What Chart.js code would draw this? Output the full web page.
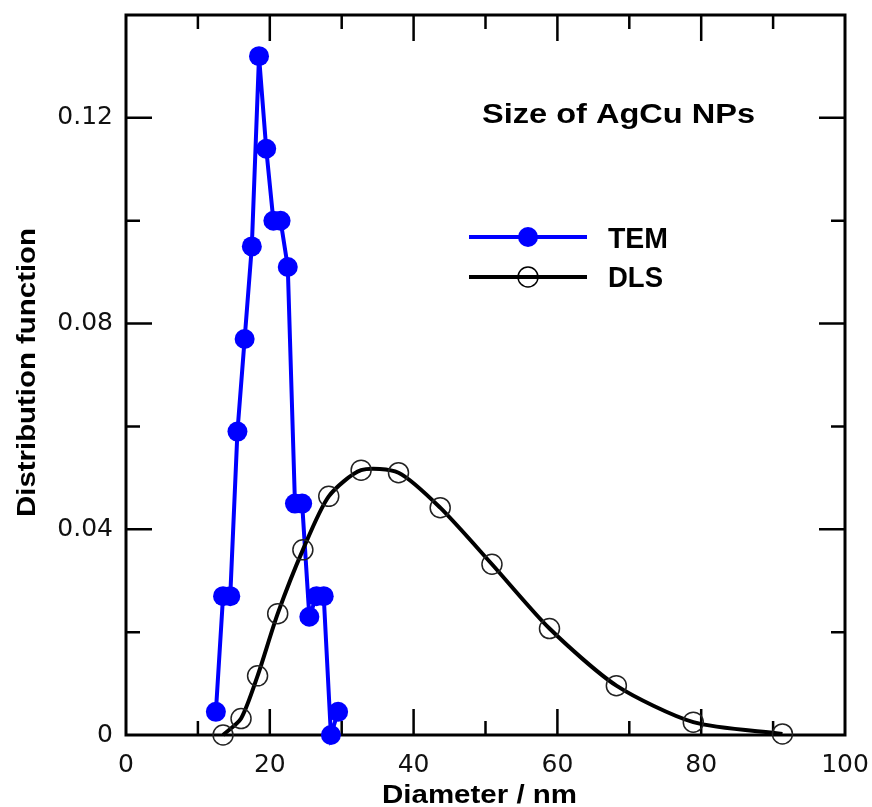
<!DOCTYPE html>
<html>
<head>
<meta charset="utf-8">
<script src="https://cdn.jsdelivr.net/npm/chart.js@4"></script>
<style>
  html, body { margin: 0; padding: 0; background: #fff; }
  canvas { display: block; }
</style>
</head>
<body>
<canvas id="myCanvas" width="872" height="807"></canvas>
<script>
// TEM histogram (diameter in nm, distribution)
const temDiameter = [12.5, 13.5, 14.5, 15.5, 16.5, 17.5, 18.5, 19.5, 20.5, 21.5, 22.5, 23.5, 24.5, 25.5, 26.5, 27.5, 28.5, 29.5];
const temValues = [0.0045, 0.027, 0.027, 0.059, 0.077, 0.095, 0.132, 0.114, 0.100, 0.100, 0.091, 0.045, 0.045, 0.023, 0.027, 0.027, 0, 0.0045];

// DLS distribution
const dlsDiameter = [13.5, 16.0, 18.3, 21.1, 24.6, 28.2, 32.7, 37.9, 43.7, 50.9, 58.9, 68.2, 78.9, 91.3];
const dlsValues = [0, 0.0032, 0.0115, 0.0236, 0.036, 0.0464, 0.0515, 0.051, 0.0442, 0.0332, 0.0207, 0.0096, 0.0025, 0.0002];

const xMajor = [20, 40, 60, 80];
const xMinor = [10, 30, 50, 70, 90];
const yMajor = [0.04, 0.08, 0.12];
const yMinor = [0.02, 0.06, 0.10];

const toPoints = (xs, ys) => xs.map((v, i) => ({ x: v, y: ys[i] }));

// draws text squeezed/stretched to a given width
const stretchText = (ctx, str, x, y, font, width) => {
   ctx.font = font;
   const w = ctx.measureText(str).width;
   ctx.save();
   ctx.translate(x, y);
   ctx.scale(width / w, 1);
   ctx.fillText(str, 0, 0);
   ctx.restore();
};

// no extra room for half tick labels, layout padding decides the plot box
const fixPadding = s => {
   s.paddingTop = 0;
   s.paddingBottom = 0;
   s.paddingLeft = 0;
   s.paddingRight = 0;
};

const frame = {
   id: 'frame',
   beforeDatasetsDraw(chart) {
      const { ctx, chartArea: a, scales: { x, y } } = chart;
      ctx.save();
      ctx.strokeStyle = '#000';
      ctx.lineWidth = 3;
      ctx.strokeRect(a.left, a.top, a.right - a.left, a.bottom - a.top);
      ctx.lineWidth = 2.5;
      ctx.beginPath();
      const xTick = (v, len) => {
         const px = x.getPixelForValue(v);
         ctx.moveTo(px, a.bottom); ctx.lineTo(px, a.bottom - len);
         ctx.moveTo(px, a.top); ctx.lineTo(px, a.top + len);
      };
      const yTick = (v, len) => {
         const py = y.getPixelForValue(v);
         ctx.moveTo(a.left, py); ctx.lineTo(a.left + len, py);
         ctx.moveTo(a.right, py); ctx.lineTo(a.right - len, py);
      };
      xMajor.forEach(v => xTick(v, 26));
      xMinor.forEach(v => xTick(v, 14));
      yMajor.forEach(v => yTick(v, 26));
      yMinor.forEach(v => yTick(v, 14));
      ctx.stroke();
      ctx.restore();
   },
   afterDraw(chart) {
      const { ctx } = chart;
      ctx.save();
      ctx.fillStyle = '#000';
      ctx.textBaseline = 'alphabetic';
      ctx.textAlign = 'left';
      const bold = '"Liberation Sans", Arial, sans-serif';

      stretchText(ctx, 'Size of AgCu NPs', 482, 123, 'bold 27px ' + bold, 273);

      // legend
      ctx.lineWidth = 4;
      ctx.strokeStyle = '#0000ff';
      ctx.beginPath(); ctx.moveTo(469, 237); ctx.lineTo(587, 237); ctx.stroke();
      ctx.fillStyle = '#0000ff';
      ctx.beginPath(); ctx.arc(528, 237, 10, 0, Math.PI * 2); ctx.fill();
      ctx.strokeStyle = '#000';
      ctx.beginPath(); ctx.moveTo(469, 277); ctx.lineTo(587, 277); ctx.stroke();
      ctx.lineWidth = 1.5;
      ctx.beginPath(); ctx.arc(528, 277, 10, 0, Math.PI * 2); ctx.stroke();
      ctx.fillStyle = '#000';
      stretchText(ctx, 'TEM', 608, 248, 'bold 29px ' + bold, 60);
      stretchText(ctx, 'DLS', 608, 287, 'bold 29px ' + bold, 55);

      // axis titles
      stretchText(ctx, 'Diameter / nm', 382, 803, 'bold 25px ' + bold, 195);
      ctx.save();
      ctx.translate(35, 517);
      ctx.rotate(-Math.PI / 2);
      stretchText(ctx, 'Distribution function', 0, 0, 'bold 25px ' + bold, 289);
      ctx.restore();
      ctx.restore();
   }
};

const ctx = document.getElementById('myCanvas').getContext('2d');

new Chart(ctx, {
   type: 'scatter',
   data: {
      datasets: [
         {
            label: 'TEM',
            data: toPoints(temDiameter, temValues),
            showLine: true,
            borderColor: '#0000ff',
            backgroundColor: '#0000ff',
            borderWidth: 4,
            pointRadius: 10,
            pointBorderWidth: 0,
            pointBackgroundColor: '#0000ff',
            tension: 0,
            clip: false,
            order: 1
         },
         {
            label: 'DLS',
            data: toPoints(dlsDiameter, dlsValues),
            showLine: true,
            borderColor: '#000',
            borderWidth: 4,
            tension: 0.25,
            pointRadius: 10,
            pointBorderWidth: 1.5,
            pointBorderColor: '#222',
            pointBackgroundColor: 'rgba(0,0,0,0)',
            clip: false,
            order: 0
         }
      ]
   },
   options: {
      responsive: false,
      animation: false,
      devicePixelRatio: 1,
      layout: { padding: { left: 0, right: 27, top: 15, bottom: 0 } },
      plugins: {
         legend: { display: false },
         tooltip: { enabled: false }
      },
      scales: {
         x: {
            type: 'linear',
            min: 0,
            max: 100,
            grid: { display: false, drawTicks: false },
            border: { display: false },
            ticks: {
               stepSize: 20,
               padding: 15,
               color: '#111',
               maxRotation: 0,
               font: { family: '"DejaVu Sans"', size: 25 }
            },
            afterFit: s => { s.height = 72; fixPadding(s); }
         },
         y: {
            type: 'linear',
            min: 0,
            max: 0.14,
            grid: { display: false, drawTicks: false },
            border: { display: false },
            ticks: {
               stepSize: 0.04,
               includeBounds: false,
               padding: 13,
               color: '#111',
               font: { family: '"DejaVu Sans"', size: 25 },
               callback: v => v === 0 ? '0' : v.toFixed(2)
            },
            afterFit: s => { s.width = 126; fixPadding(s); }
         }
      }
   },
   plugins: [frame]
});
</script>
</body>
</html>
